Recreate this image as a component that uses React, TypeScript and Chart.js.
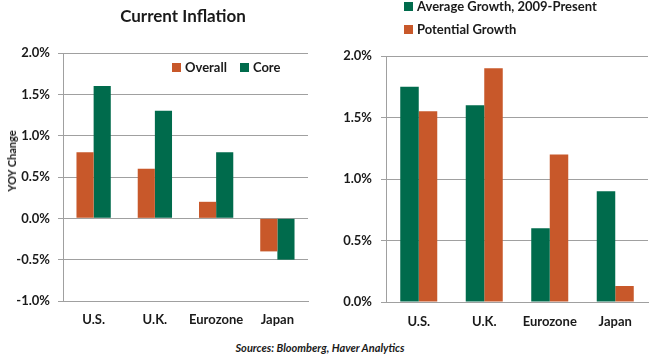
import React, { useEffect, useRef } from "react";
import { Chart, registerables } from "chart.js";

Chart.register(...registerables);

const categories = ["U.S.", "U.K.", "Eurozone", "Japan"];
const overallLabel = "Overall";
const coreLabel = "Core";
const inflationOverall = [0.8, 0.6, 0.2, -0.4];
const inflationCore = [1.6, 1.3, 0.8, -0.5];
const avgGrowthLabel = "Average Growth, 2009-Present";
const potentialLabel = "Potential Growth";
const avgGrowth = [1.75, 1.6, 0.6, 0.9];
const potentialGrowth = [1.55, 1.9, 1.2, 0.13];

const ORANGE = "#C8582A";
const GREEN = "#006B4C";
const GRID = "#A0A0A0";
const TEXT = "#1A1A1A";
const FONT = "Lato, 'Open Sans', sans-serif";

type DS = { label: string; data: number[]; color: string };

function BarChart(props: {
  left: number;
  width: number;
  height: number;
  datasets: DS[];
  min: number;
  max: number;
  padTop: number;
  padRight: number;
  yWidth: number;
  yPad: number;
  xPad: number;
  catPct: number;
}) {
  const ref = useRef<HTMLCanvasElement | null>(null);
  useEffect(() => {
    if (!ref.current) return;
    const chart = new Chart(ref.current, {
      type: "bar",
      data: {
        labels: categories,
        datasets: props.datasets.map((d) => ({
          label: d.label,
          data: d.data,
          backgroundColor: d.color,
          borderWidth: 0,
          categoryPercentage: props.catPct,
          barPercentage: 1,
        })),
      },
      options: {
        animation: false,
        responsive: false,
        maintainAspectRatio: false,
        layout: { padding: { top: props.padTop, right: props.padRight, left: 0, bottom: 0 } },
        plugins: {
          legend: { display: false },
          title: { display: false },
          tooltip: { enabled: false },
        },
        scales: {
          x: {
            grid: { display: false },
            border: { display: true, color: GRID, width: 1 },
            ticks: {
              color: TEXT,
              padding: props.xPad,
              font: { size: 13, weight: "bold", family: FONT },
            },
            afterFit: (s: any) => {
              s.height = 30;
            },
          },
          y: {
            min: props.min,
            max: props.max,
            grid: { color: GRID, lineWidth: 1, drawTicks: true, tickLength: 5 },
            border: { display: true, color: GRID, width: 1 },
            ticks: {
              stepSize: 0.5,
              color: TEXT,
              padding: props.yPad,
              font: { size: 13, weight: "bold", family: FONT },
              callback: (v: any) => Number(v).toFixed(1) + "%",
            },
            afterFit: (s: any) => {
              s.width = props.yWidth;
            },
          },
        },
      } as any,
    });
    return () => chart.destroy();
  }, []);
  return (
    <canvas
      ref={ref}
      width={props.width}
      height={props.height}
      style={{ position: "absolute", left: props.left, top: 0, width: props.width, height: props.height }}
    />
  );
}

function LegendItem({ color, label, style }: { color: string; label: string; style?: React.CSSProperties }) {
  return (
    <div style={{ display: "flex", alignItems: "center", ...style }}>
      <div style={{ width: 9, height: 9, background: color, marginRight: 4 }} />
      <span>{label}</span>
    </div>
  );
}

export default function App() {
  const textStyle: React.CSSProperties = {
    fontFamily: FONT,
    fontWeight: 700,
    color: TEXT,
    whiteSpace: "nowrap",
  };
  return (
    <div
      style={{
        position: "fixed",
        left: 0,
        top: 0,
        width: 650,
        height: 355,
        background: "#fff",
        overflow: "hidden",
      }}
    >
      <BarChart
        left={0}
        width={325}
        height={331}
        datasets={[
          { label: overallLabel, data: inflationOverall, color: ORANGE },
          { label: coreLabel, data: inflationCore, color: GREEN },
        ]}
        min={-1}
        max={2}
        padTop={53}
        padRight={17}
        yWidth={63}
        yPad={8}
        xPad={3}
        catPct={0.56}
      />
      <BarChart
        left={325}
        width={325}
        height={332}
        datasets={[
          { label: avgGrowthLabel, data: avgGrowth, color: GREEN },
          { label: potentialLabel, data: potentialGrowth, color: ORANGE },
        ]}
        min={0}
        max={2}
        padTop={56}
        padRight={2}
        yWidth={61}
        yPad={9}
        xPad={4}
        catPct={0.565}
      />
      <div
        style={{
          ...textStyle,
          position: "absolute",
          left: 0,
          width: 366,
          top: 6,
          lineHeight: "20px",
          fontSize: 17,
          textAlign: "center",
        }}
      >
        Current Inflation
      </div>
      <div
        style={{
          ...textStyle,
          position: "absolute",
          left: 12,
          top: 161,
          fontSize: 11,
          lineHeight: "12px",
          transform: "translate(-50%, -50%) rotate(-90deg)",
        }}
      >
        YOY Change
      </div>
      <div
        style={{
          ...textStyle,
          position: "absolute",
          left: 172,
          top: 59,
          fontSize: 13,
          lineHeight: "17px",
          display: "flex",
        }}
      >
        <LegendItem color={ORANGE} label={overallLabel} style={{ marginRight: 13 }} />
        <LegendItem color={GREEN} label={coreLabel} />
      </div>
      <div
        style={{
          ...textStyle,
          position: "absolute",
          left: 404,
          top: -2,
          fontSize: 13,
          lineHeight: "17px",
        }}
      >
        <LegendItem color={GREEN} label={avgGrowthLabel} style={{ marginBottom: 6 }} />
        <LegendItem color={ORANGE} label={potentialLabel} />
      </div>
      <div
        style={{
          ...textStyle,
          position: "absolute",
          left: 0,
          width: 640,
          top: 341,
          fontSize: 11,
          lineHeight: "14px",
          fontStyle: "italic",
          textAlign: "center",
        }}
      >
        Sources: Bloomberg, Haver Analytics
      </div>
    </div>
  );
}
